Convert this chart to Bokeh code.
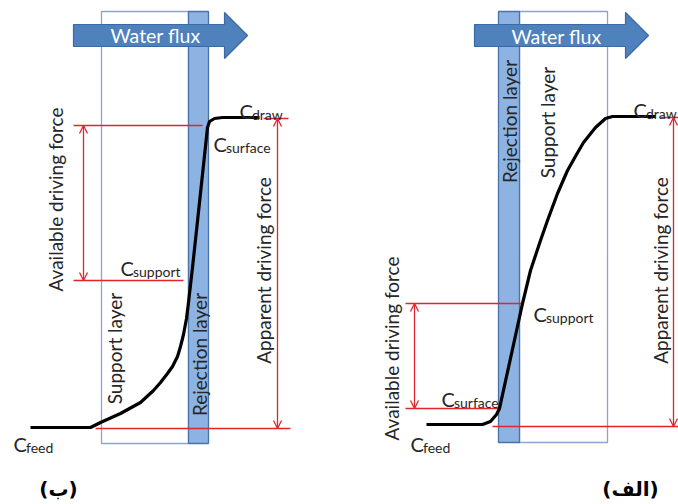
import math
from bokeh.plotting import figure
from bokeh.models import Range1d, Arrow, OpenHead
from bokeh.core.properties import value
from bokeh.embed import file_html
from bokeh.resources import INLINE

# ---------------- data (image pixel coordinates) ----------------
# concentration profile, panel (ب) left
left_curve_x = [30, 90, 100, 120, 140, 153, 160, 167, 172, 177, 180, 183, 186, 188, 192, 196, 207, 209, 214, 222, 259]
left_curve_y = [427, 427, 422, 413, 402, 390, 382, 373, 366, 356, 346, 334, 318, 302, 267, 230, 127, 121, 118, 117, 117]
# concentration profile, panel (الف) right
right_curve_x = [426, 482, 490, 496, 499, 522, 530, 540, 547, 557, 567, 576, 583, 595, 605, 612, 655]
right_curve_y = [424, 424, 421, 414, 408, 303, 270, 240, 220, 193, 170, 154, 142, 127, 118, 116, 116]

# membrane layers: left, right, top, bottom
support_left = [101, 188, 11, 443]
reject_left = [188, 208, 11, 443]
reject_right = [498, 519, 11, 442]
support_right = [519, 607, 11, 442]

# water flux arrows: body left, body top, body bottom, head base, head top, head bottom, tip
flux_left = [73, 24, 46, 224, 12, 58, 247]
flux_right = [474, 24, 46, 625, 12, 58, 648]

# red guide lines
red_x0 = [73, 73, 263, 95, 405, 405, 660, 492]
red_y0 = [125, 280, 118, 428, 303, 408, 117, 426]
red_x1 = [202, 183, 288, 290, 522, 500, 678, 678]
red_y1 = [125, 280, 118, 428, 303, 408, 117, 426]
# double-headed red arrows
darrow_x = [83, 277, 414, 673]
darrow_y0 = [125, 118, 303, 117]
darrow_y1 = [280, 428, 408, 426]

# concentration labels
c_x = [239, 213, 120, 13, 633, 441, 533, 410]
c_base = [110, 143, 267, 443, 109, 398, 313, 443]
c_sub = ["draw", "surface", "support", "feed", "draw", "surface", "support", "feed"]

# rotated labels
rot_text = ["Available driving force", "Apparent driving force", "Support layer", "Rejection layer",
            "Rejection layer", "Support layer", "Available driving force", "Apparent driving force"]
rot_x = [55, 263, 114, 199, 509, 547, 391, 660]
rot_y = [199, 270, 348, 354, 121, 122, 348, 270]

flux_text_x = [155, 556]
flux_text_y = [35, 36]

panel_text = ["(ب)", "(الف)"]
panel_x = [58, 630]
panel_y = [488, 488]

FONT = "Lato"
RED = "#e0262c"
ARROW_FILL = "#4f81bd"
ARROW_LINE = "#3a6aa4"
REJ_FILL = "#8db3e2"
REJ_LINE = "#4a72a8"
SUP_LINE = "#8aa6cc"
TXT = "#262626"

p = figure(width=678, height=504, x_range=Range1d(0, 678), y_range=Range1d(504, 0),
           output_backend="svg", toolbar_location=None, min_border=0,
           x_axis_type=None, y_axis_type=None, background_fill_color="white")
p.grid.visible = False
p.outline_line_color = None

def box(b, fill, line, lw):
    l, r, t, bt = b
    p.quad(left=[l], right=[r], top=[t], bottom=[bt], fill_color=fill, line_color=line, line_width=lw)

box(support_left, "white", SUP_LINE, 1.3)
box(reject_left, REJ_FILL, REJ_LINE, 1.3)
box(support_right, "white", SUP_LINE, 1.3)
box(reject_right, REJ_FILL, REJ_LINE, 1.3)

def flux(f):
    bl, bt, bb, hb, ht, hbm, tip = f
    mid = (bt + bb) / 2
    xs = [bl, hb, hb, tip, hb, hb, bl]
    ys = [bt, bt, ht, mid, hbm, bb, bb]
    p.patch(xs, ys, fill_color=ARROW_FILL, line_color=ARROW_LINE, line_width=1.2)

flux(flux_left)
flux(flux_right)

p.text(x=flux_text_x, y=flux_text_y, text=["Water flux", "Water flux"], text_color="white",
       text_font=value(FONT), text_font_size="19.5px", text_align="center", text_baseline="middle")

p.segment(x0=red_x0, y0=red_y0, x1=red_x1, y1=red_y1, line_color=RED, line_width=1.3)
for ax, ay0, ay1 in zip(darrow_x, darrow_y0, darrow_y1):
    p.add_layout(Arrow(x_start=ax, y_start=ay0, x_end=ax, y_end=ay1, line_color=RED, line_width=1.3,
                       start=OpenHead(size=8, line_color=RED, line_width=1.3),
                       end=OpenHead(size=8, line_color=RED, line_width=1.3)))

p.line(left_curve_x, left_curve_y, line_color="black", line_width=3.2, line_join="round")
p.line(right_curve_x, right_curve_y, line_color="black", line_width=3.2, line_join="round")

p.text(x=c_x, y=c_base, text=["C"] * len(c_x), text_color=TXT, text_font=value(FONT),
       text_font_size="20px", text_align="left", text_baseline="alphabetic")
p.text(x=[x + 12.5 for x in c_x], y=[y + 3.5 for y in c_base], text=c_sub, text_color=TXT,
       text_font=value(FONT), text_font_size="14px", text_align="left", text_baseline="alphabetic")

p.text(x=rot_x, y=rot_y, text=rot_text, angle=math.pi / 2, text_color=TXT,
       text_font=value(FONT), text_font_size="19px", text_align="center", text_baseline="middle")

p.text(x=panel_x, y=panel_y, text=panel_text, text_color="black", text_font=value("DejaVu Sans"),
       text_font_size="20px", text_font_style="bold", text_align="center", text_baseline="middle")

open("out.html", "w").write(file_html(p, INLINE))
